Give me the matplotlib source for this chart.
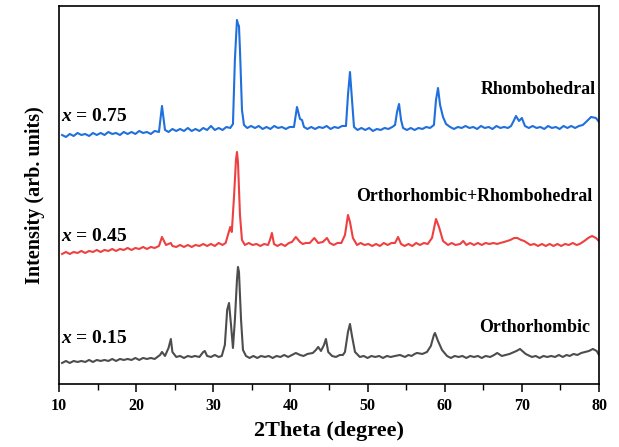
import matplotlib

matplotlib.use("Agg")
import matplotlib.pyplot as plt
from matplotlib.ticker import MultipleLocator

plt.rcParams["font.family"] = ["Liberation Serif", "DejaVu Serif"]
plt.rcParams["mathtext.fontset"] = "custom"
plt.rcParams["mathtext.it"] = "Liberation Serif:italic:bold"
plt.rcParams["mathtext.rm"] = "Liberation Serif:bold"

# XRD patterns: (2theta in degree, intensity in arb. units incl. offset)
pattern_075 = [
    (10.4, 249), (10.9, 247), (11.4, 250), (11.9, 248), (12.4, 251), (12.9, 249), (13.4, 250),
    (13.9, 248), (14.4, 251), (14.9, 249), (15.4, 251), (15.9, 249), (16.4, 252), (16.9, 250),
    (17.4, 251), (17.9, 249), (18.4, 252), (18.9, 250), (19.4, 252), (19.9, 250), (20.4, 253),
    (20.9, 251), (21.4, 252), (21.9, 250), (22.4, 253), (22.96, 252), (23.35, 278), (23.74, 254),
    (24.2, 252), (24.7, 255), (25.2, 253), (25.7, 255), (26.2, 253), (26.7, 256), (27.2, 253),
    (27.7, 255), (28.2, 253), (28.7, 256), (29.2, 254), (29.7, 258), (30.2, 254), (30.7, 256),
    (31.2, 254), (31.7, 257), (32.2, 256), (32.55, 260), (32.8, 324), (33.07, 364), (33.2, 360),
    (33.33, 358), (33.46, 334), (33.72, 274), (33.98, 259), (34.4, 256), (34.9, 258), (35.4, 256),
    (35.9, 258), (36.4, 255), (36.9, 257), (37.4, 255), (37.9, 258), (38.4, 256), (38.9, 257),
    (39.4, 255), (39.9, 257), (40.46, 257), (40.85, 277), (41.24, 265), (41.5, 264), (41.76, 257),
    (42.2, 255), (42.7, 257), (43.2, 255), (43.7, 257), (44.2, 256), (44.7, 258), (45.2, 255),
    (45.7, 257), (46.2, 256), (46.7, 258), (47.2, 258), (47.46, 289), (47.72, 312), (47.98, 284),
    (48.24, 257), (48.7, 254), (49.2, 256), (49.7, 254), (50.2, 256), (50.7, 253), (51.2, 255),
    (51.7, 254), (52.2, 256), (52.7, 255), (53.2, 257), (53.56, 259), (53.82, 272), (54.08, 280),
    (54.34, 264), (54.6, 256), (55.1, 254), (55.6, 256), (56.1, 254), (56.6, 256), (57.1, 255),
    (57.6, 257), (58.1, 256), (58.6, 259), (58.87, 284), (59.13, 296), (59.4, 279), (59.78, 267),
    (60.17, 260), (60.7, 257), (61.2, 255), (61.7, 257), (62.2, 256), (62.7, 258), (63.2, 256),
    (63.7, 257), (64.2, 255), (64.7, 258), (65.2, 256), (65.7, 257), (66.2, 255), (66.7, 258),
    (67.2, 256), (67.7, 257), (68.2, 256), (68.6, 258), (69.0, 264), (69.24, 268), (69.63, 263),
    (70.0, 266), (70.4, 258), (70.9, 256), (71.4, 258), (71.9, 256), (72.4, 257), (72.9, 255),
    (73.4, 258), (73.9, 256), (74.4, 257), (74.9, 255), (75.4, 258), (75.9, 256), (76.4, 258),
    (76.9, 256), (77.4, 258), (77.9, 259), (78.45, 263), (78.97, 267), (79.6, 266), (80.0, 262),
]

pattern_045 = [
    (10.4, 130), (10.9, 132), (11.4, 130), (11.9, 132), (12.4, 131), (12.9, 133), (13.4, 131),
    (13.9, 133), (14.4, 132), (14.9, 134), (15.4, 132), (15.9, 134), (16.4, 133), (16.9, 135),
    (17.4, 133), (17.9, 135), (18.4, 134), (18.9, 136), (19.4, 134), (19.9, 136), (20.4, 135),
    (20.9, 137), (21.4, 135), (21.9, 137), (22.4, 136), (22.96, 138), (23.35, 147), (23.87, 139),
    (24.2, 140), (24.5, 141), (24.7, 138), (25.2, 137), (25.7, 139), (26.2, 137), (26.7, 139),
    (27.2, 137), (27.7, 139), (28.2, 138), (28.7, 140), (29.2, 138), (29.7, 140), (30.2, 138),
    (30.7, 141), (31.2, 139), (31.6, 141), (32.2, 157), (32.4, 152), (32.7, 189), (32.94, 224),
    (33.07, 232), (33.2, 222), (33.46, 169), (33.72, 144), (34.1, 139), (34.6, 141), (35.1, 139),
    (35.6, 140), (36.1, 138), (36.6, 140), (37.1, 139), (37.35, 144), (37.6, 151), (37.87, 140),
    (38.3, 138), (38.8, 140), (39.3, 138), (39.8, 141), (40.2, 142), (40.7, 147), (41.24, 142),
    (41.6, 140), (42.0, 141), (42.5, 141), (43.1, 146), (43.6, 141), (44.2, 142), (44.74, 146),
    (45.1, 141), (45.6, 139), (46.1, 141), (46.6, 141), (47.07, 149), (47.46, 169), (47.72, 162),
    (48.1, 146), (48.63, 139), (49.1, 141), (49.6, 139), (50.1, 140), (50.6, 138), (51.1, 140),
    (51.6, 138), (52.1, 141), (52.6, 139), (53.1, 141), (53.56, 141), (53.95, 147), (54.34, 140),
    (54.8, 138), (55.3, 140), (55.8, 138), (56.3, 141), (56.8, 139), (57.3, 141), (57.8, 140),
    (58.35, 146), (58.87, 165), (59.26, 157), (59.78, 143), (60.43, 139), (60.9, 141), (61.4, 139),
    (62.0, 140), (62.4, 143), (62.8, 139), (63.3, 141), (63.8, 139), (64.3, 141), (64.8, 139),
    (65.3, 141), (65.8, 140), (66.3, 141), (66.8, 140), (67.2, 141), (67.7, 142), (68.5, 144),
    (69.0, 146), (69.4, 146), (69.9, 144), (70.3, 143), (71.1, 139), (71.6, 140), (72.1, 138),
    (72.6, 140), (73.1, 138), (73.6, 140), (74.1, 138), (74.6, 140), (75.1, 138), (75.6, 140),
    (76.1, 139), (76.6, 141), (77.1, 139), (77.5, 140), (78.1, 143), (78.6, 146), (79.1, 148),
    (79.6, 146), (80.0, 143),
]

pattern_015 = [
    (10.4, 21), (10.9, 23), (11.4, 21), (11.9, 23), (12.4, 22), (12.9, 23), (13.4, 22),
    (13.9, 24), (14.4, 22), (14.9, 24), (15.4, 23), (15.9, 24), (16.4, 23), (16.9, 25),
    (17.4, 23), (17.9, 25), (18.4, 24), (18.9, 25), (19.4, 24), (19.9, 26), (20.4, 24),
    (20.9, 26), (21.4, 25), (21.9, 26), (22.4, 25), (23.1, 29), (23.35, 32), (23.74, 28),
    (24.2, 36), (24.5, 45), (24.7, 32), (25.2, 27), (25.7, 28), (26.2, 26), (26.7, 28),
    (27.2, 27), (27.6, 28), (28.2, 27), (28.7, 32), (28.9, 33), (29.2, 28), (29.7, 27),
    (30.2, 29), (30.7, 27), (31.1, 28), (31.5, 39), (31.8, 74), (32.04, 81), (32.3, 59),
    (32.55, 36), (32.8, 64), (33.07, 104), (33.2, 117), (33.33, 112), (33.6, 64), (33.85, 34),
    (34.24, 28), (34.7, 26), (35.2, 28), (35.7, 26), (36.2, 28), (36.7, 27), (37.2, 28),
    (37.7, 26), (38.2, 28), (38.7, 27), (39.2, 29), (39.7, 27), (40.2, 29), (40.7, 31),
    (41.24, 29), (41.7, 28), (42.2, 30), (42.9, 31), (43.3, 34), (43.6, 37), (43.96, 33),
    (44.35, 39), (44.6, 45), (44.9, 32), (45.4, 28), (45.9, 27), (46.4, 29), (46.8, 29),
    (47.07, 32), (47.46, 52), (47.72, 60), (47.98, 48), (48.37, 32), (49.0, 27), (49.5, 28),
    (50.0, 26), (50.5, 28), (51.0, 27), (51.5, 28), (52.0, 26), (52.5, 28), (53.0, 27),
    (53.56, 28), (54.2, 29), (54.85, 27), (55.3, 29), (55.7, 28), (56.1, 30), (56.4, 31),
    (57.1, 30), (57.7, 32), (58.2, 38), (58.6, 49), (58.74, 51), (59.13, 43), (59.65, 34),
    (60.3, 28), (60.8, 26), (61.3, 28), (61.8, 27), (62.3, 28), (62.8, 26), (63.3, 28),
    (63.8, 27), (64.3, 28), (64.8, 26), (65.3, 28), (65.9, 27), (66.4, 29), (66.8, 31),
    (67.4, 28), (67.9, 29), (68.4, 30), (68.7, 31), (69.3, 33), (69.76, 35), (70.2, 32),
    (70.5, 30), (71.3, 27), (71.8, 28), (72.3, 26), (72.8, 28), (73.3, 27), (73.8, 28),
    (74.3, 27), (74.8, 29), (75.3, 27), (75.8, 29), (76.2, 28), (76.7, 30), (77.2, 29),
    (77.7, 31), (78.2, 32), (78.7, 33), (79.2, 35), (79.7, 33), (80.0, 29),
]

curves = [
    (pattern_075, "#1f6fdc"),
    (pattern_045, "#ee4040"),
    (pattern_015, "#4d4d4d"),
]

fig = plt.figure(figsize=(6.19, 4.47), dpi=100)
ax = fig.add_axes([0.0953, 0.141, 0.8724, 0.8456])

for pts, col in curves:
    th, it = zip(*pts)
    ax.plot(th, it, color=col, lw=1.5)

ax.set_xlim(10, 80)
ax.set_ylim(0, 378)
ax.xaxis.set_major_locator(MultipleLocator(10))
ax.xaxis.set_minor_locator(MultipleLocator(5))
ax.tick_params(axis="x", which="major", direction="out", length=6, width=1.1,
               labelsize=11.5, pad=4)
ax.tick_params(axis="x", which="minor", direction="out", length=4, width=1.0)
ax.set_yticks([])
for lbl in ax.get_xticklabels():
    lbl.set_fontweight("bold")
for sp in ax.spines.values():
    sp.set_linewidth(1.2)

ax.set_xlabel("2Theta (degree)", fontsize=16, fontweight="bold", labelpad=5)
ax.set_ylabel("Intensity (arb. units)", fontsize=14.5, fontweight="bold", labelpad=10)

txt = dict(fontsize=14, fontweight="bold")
ax.text(10.2, 259, "$x$ = 0.75", ha="left", va="bottom", **txt)
ax.text(10.2, 139, "$x$ = 0.45", ha="left", va="bottom", **txt)
ax.text(10.2, 37, "$x$ = 0.15", ha="left", va="bottom", **txt)
lab = dict(fontsize=12.9, fontweight="bold", ha="right", va="center")
ax.text(79.6, 294, "Rhombohedral", **lab)
ax.text(79.2, 187, "Orthorhombic+Rhombohedral", **lab)
ax.text(78.8, 56, "Orthorhombic", **lab)

fig.savefig("out.png", dpi=100)
